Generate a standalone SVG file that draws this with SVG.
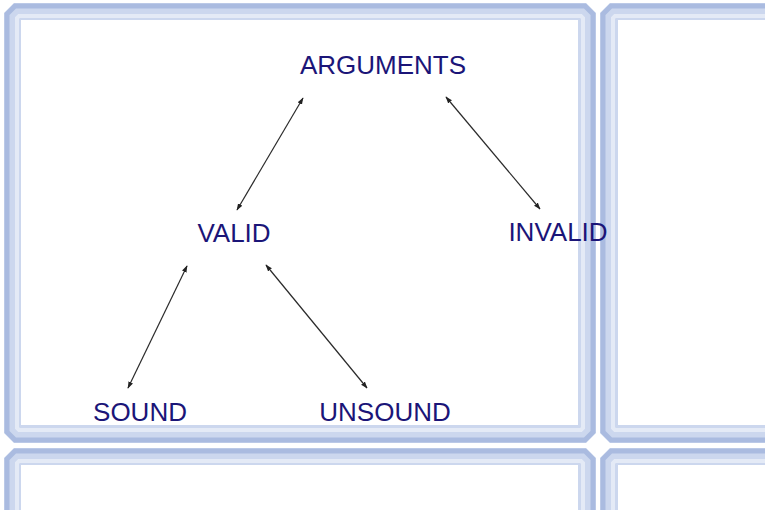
<svg xmlns="http://www.w3.org/2000/svg" width="765" height="510" viewBox="0 0 765 510">
<defs>
<marker id="ah" viewBox="0 0 10 10" refX="9" refY="5" markerWidth="7" markerHeight="7" orient="auto-start-reverse" markerUnits="userSpaceOnUse">
<path d="M0,1.5 L10,5 L0,8.5 z" fill="#222"/>
</marker>
</defs>
<style>
.pane-outer{fill:#ccd7ee;}
.pane-band{fill:none;stroke:#aabbe0;stroke-width:5;}
.pane-light{fill:none;stroke:#e4eaf6;stroke-width:4;}
.pane-inner{fill:#ffffff;}
.lbl{font-family:"Liberation Sans",Arial,sans-serif;font-size:26px;fill:#1b1578;text-anchor:middle;}
.conn{stroke:#2a2a2a;stroke-width:1.2;fill:none;marker-start:url(#ah);marker-end:url(#ah);}
</style>
<rect width="765" height="510" fill="#ffffff"/>
<g id="frame">
<polygon class="pane-outer" points="14,3 586,3 596,13 596,433 586,443 14,443 4,433 4,13"/>
<polygon class="pane-band" points="15,6 585,6 593,14 593,432 585,440 15,440 7,432 7,14"/>
<polygon class="pane-light" points="19,16 581,16 583,18 583,428 581,430 19,430 17,428 17,18"/>
<rect class="pane-inner" x="21" y="20" width="557" height="405"/>
<polygon class="pane-outer" points="610,3 770,3 770,443 610,443 600,433 600,13"/>
<polygon class="pane-band" points="611,6 770,6 770,440 611,440 603,432 603,14"/>
<polygon class="pane-light" points="615,16 770,16 770,430 615,430 613,428 613,18"/>
<rect class="pane-inner" x="618" y="20" width="160" height="405"/>
<polygon class="pane-outer" points="14,448 586,448 596,458 596,520 4,520 4,458"/>
<polygon class="pane-band" points="15,451 585,451 593,459 593,520 7,520 7,459"/>
<polygon class="pane-light" points="19,461 581,461 583,463 583,520 17,520 17,463"/>
<rect class="pane-inner" x="21" y="465" width="557" height="60"/>
<polygon class="pane-outer" points="610,448 770,448 770,520 600,520 600,458"/>
<polygon class="pane-band" points="611,451 770,451 770,520 603,520 603,459"/>
<polygon class="pane-light" points="615,461 770,461 770,520 613,520 613,463"/>
<rect class="pane-inner" x="618" y="465" width="160" height="60"/>
</g>
<g id="connectors">
<line class="conn" x1="303" y1="98" x2="237" y2="210"/>
<line class="conn" x1="446" y1="97" x2="540" y2="209"/>
<line class="conn" x1="187" y1="266" x2="128" y2="388"/>
<line class="conn" x1="266" y1="265" x2="367" y2="388"/>
</g>
<g id="arguments"><text class="lbl" x="383" y="74">ARGUMENTS</text></g>
<g id="valid"><text class="lbl" x="234" y="242">VALID</text></g>
<g id="invalid"><text class="lbl" x="558" y="241">INVALID</text></g>
<g id="sound"><text class="lbl" x="140" y="421">SOUND</text></g>
<g id="unsound"><text class="lbl" x="385" y="421">UNSOUND</text></g>
</svg>
